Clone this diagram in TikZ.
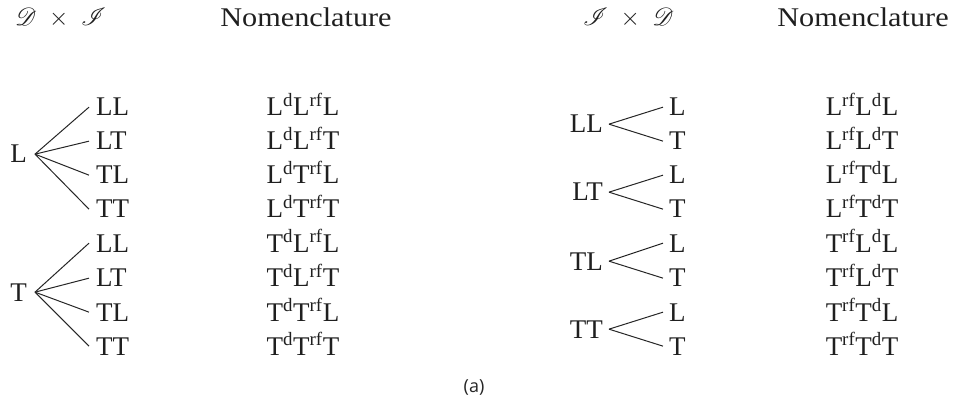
\documentclass[tikz,border=0pt]{standalone}
\usepackage{fontspec}
\usepackage{mathrsfs}
\setmainfont{Liberation Serif}
\newfontfamily\capfont{Open Sans}
\newcommand{\su}[1]{\textsuperscript{#1}}
\newcommand{\tms}{\mathbin{\;\times\;}}
\begin{document}
\begin{tikzpicture}[x=1pt,y=-1pt,
  txt/.style={font=\fontsize{27}{32}\selectfont, inner sep=0pt, text=black!88},
  lroot/.style={txt, anchor=base east, inner xsep=8pt},
  lleaf/.style={txt, anchor=base west, inner xsep=7pt},
  rroot/.style={txt, anchor=base east, inner xsep=6pt},
  rleaf/.style={txt, anchor=base west, inner xsep=6pt},
  nom/.style={txt, anchor=base},
  head/.style={txt, anchor=base},
  edge/.style={line width=1pt, draw=black!85}]
\useasboundingbox (0,0) rectangle (955,403);

% headers
\node[txt, anchor=base west] (h1) at (15,26) {$\mathscr{D}\tms\mathscr{I}$};
\node[head] (h2) at (306,27) {\scalebox{1.12}[1]{Nomenclature}};
\node[txt, anchor=base west] (h3) at (583,26) {$\mathscr{I}\tms\mathscr{D}$};
\node[head] (h4) at (863,27) {\scalebox{1.12}[1]{Nomenclature}};

% left tree
\node[lroot] (rL) at (35,163) {L};
\node[lroot] (rT) at (35,301) {T};
\node[lleaf] (a1) at (89,116) {LL};
\node[lleaf] (a2) at (89,150) {LT};
\node[lleaf] (a3) at (89,184) {TL};
\node[lleaf] (a4) at (89,218) {TT};
\node[lleaf] (a5) at (89,252) {LL};
\node[lleaf] (a6) at (89,287) {LT};
\node[lleaf] (a7) at (89,321) {TL};
\node[lleaf] (a8) at (89,355) {TT};
\foreach \i in {1,2,3,4} \draw[edge] (rL.east) -- (a\i.west);
\foreach \i in {5,6,7,8} \draw[edge] (rT.east) -- (a\i.west);

% left nomenclature
\node[nom] (n1) at (303,116) {L\su{d}L\su{rf}L};
\node[nom] (n2) at (303,150) {L\su{d}L\su{rf}T};
\node[nom] (n3) at (303,184) {L\su{d}T\su{rf}L};
\node[nom] (n4) at (303,218) {L\su{d}T\su{rf}T};
\node[nom] (n5) at (303,252) {T\su{d}L\su{rf}L};
\node[nom] (n6) at (303,287) {T\su{d}L\su{rf}T};
\node[nom] (n7) at (303,321) {T\su{d}T\su{rf}L};
\node[nom] (n8) at (303,355) {T\su{d}T\su{rf}T};

% right tree
\node[rroot] (s1) at (609,133) {LL};
\node[rroot] (s2) at (609,201) {LT};
\node[rroot] (s3) at (609,270) {TL};
\node[rroot] (s4) at (609,338) {TT};
\node[rleaf] (b1) at (663,116) {L};
\node[rleaf] (b2) at (663,150) {T};
\node[rleaf] (b3) at (663,184) {L};
\node[rleaf] (b4) at (663,218) {T};
\node[rleaf] (b5) at (663,252) {L};
\node[rleaf] (b6) at (663,287) {T};
\node[rleaf] (b7) at (663,321) {L};
\node[rleaf] (b8) at (663,355) {T};
\draw[edge] (s1.east) -- (b1.west);
\draw[edge] (s1.east) -- (b2.west);
\draw[edge] (s2.east) -- (b3.west);
\draw[edge] (s2.east) -- (b4.west);
\draw[edge] (s3.east) -- (b5.west);
\draw[edge] (s3.east) -- (b6.west);
\draw[edge] (s4.east) -- (b7.west);
\draw[edge] (s4.east) -- (b8.west);

% right nomenclature
\node[nom] (m1) at (862,116) {L\su{rf}L\su{d}L};
\node[nom] (m2) at (862,150) {L\su{rf}L\su{d}T};
\node[nom] (m3) at (862,184) {L\su{rf}T\su{d}L};
\node[nom] (m4) at (862,218) {L\su{rf}T\su{d}T};
\node[nom] (m5) at (862,252) {T\su{rf}L\su{d}L};
\node[nom] (m6) at (862,287) {T\su{rf}L\su{d}T};
\node[nom] (m7) at (862,321) {T\su{rf}T\su{d}L};
\node[nom] (m8) at (862,355) {T\su{rf}T\su{d}T};

% caption
\node[font=\capfont\fontsize{18}{22}\selectfont, text=black!85, anchor=base, inner sep=0pt] (cap) at (474,392) {(a)};
\end{tikzpicture}
\end{document}
